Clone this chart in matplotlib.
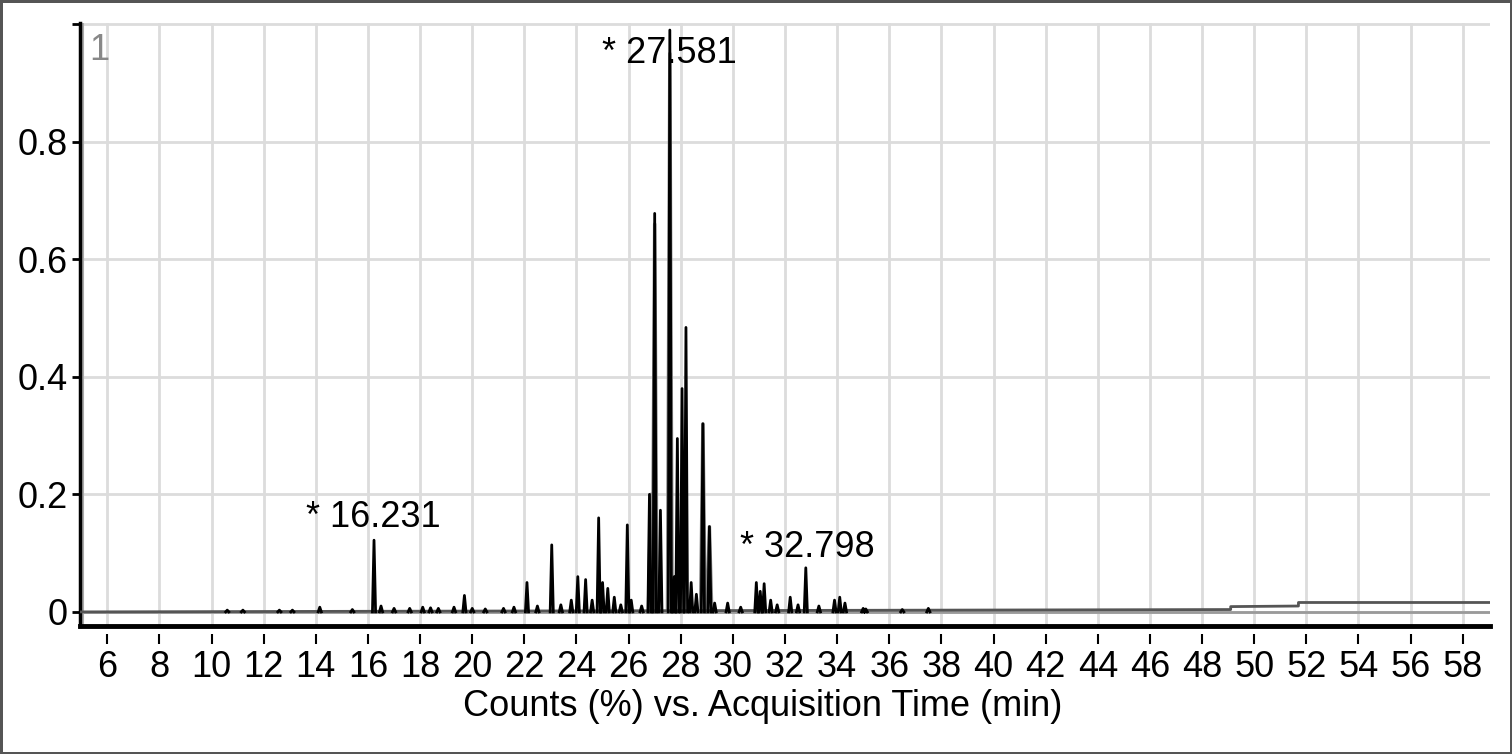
import numpy as np
import matplotlib
matplotlib.use('Agg')
import matplotlib.pyplot as plt

plt.rcParams['font.family'] = ['Liberation Sans', 'DejaVu Sans']

# retention times (min) and relative counts
peak_rt = [10.6, 11.2, 12.6, 13.1, 14.15, 15.4, 16.231, 16.5, 17.0, 17.6, 18.1, 18.4, 18.7,
           19.3, 19.7, 20.0, 20.5, 21.2, 21.6, 22.1, 22.5, 23.05, 23.4, 23.8, 24.05, 24.35,
           24.6, 24.85, 25.0, 25.2, 25.45, 25.7, 25.95, 26.1, 26.5, 26.8, 27.0, 27.22, 27.581,
           27.75, 27.87, 28.05, 28.2, 28.4, 28.6, 28.85, 29.1, 29.3, 29.8, 30.3, 30.9, 31.05,
           31.2, 31.45, 31.7, 32.2, 32.5, 32.798, 33.3, 33.9, 34.1, 34.3, 35.0, 35.1, 36.5, 37.5]
peak_h = [0.003, 0.003, 0.003, 0.003, 0.008, 0.004, 0.122, 0.010, 0.006, 0.006, 0.008, 0.007, 0.006,
          0.008, 0.028, 0.006, 0.005, 0.006, 0.008, 0.050, 0.010, 0.114, 0.012, 0.020, 0.060, 0.055,
          0.020, 0.160, 0.050, 0.040, 0.025, 0.012, 0.148, 0.020, 0.010, 0.200, 0.678, 0.173, 0.990,
          0.060, 0.295, 0.380, 0.484, 0.050, 0.030, 0.320, 0.145, 0.015, 0.015, 0.008, 0.050, 0.035,
          0.048, 0.020, 0.012, 0.025, 0.012, 0.075, 0.010, 0.020, 0.025, 0.015, 0.006, 0.005, 0.004, 0.006]

# second (grey) trace peaks
grey_rt = [26.85, 27.0, 27.581, 28.85, 29.1]
grey_h = [0.20, 0.66, 0.95, 0.32, 0.145]

# black trace baseline drift after 38 min
base_t = [4.95, 38.0, 49.1, 49.1, 51.7, 51.7, 59.05]
base_y = [0.0, 0.003, 0.004, 0.009, 0.010, 0.016, 0.016]

labels = ['* 16.231', '* 27.581', '* 32.798']
label_x = [16.19, 27.581, 32.86]
label_y = [0.144, 0.934, 0.093]

xticks = list(range(6, 60, 2))
yticks = [0, 0.2, 0.4, 0.6, 0.8, 1.0]
ytick_labels = ['0', '0.2', '0.4', '0.6', '0.8', '']


def trace(rts, hs, hw):
    xs, ys = [], []
    for t, h in zip(rts, hs):
        xs += [t - hw, t, t + hw, np.nan]
        ys += [0, h, 0, np.nan]
    return xs, ys


fig = plt.figure(figsize=(15.12, 7.54), dpi=100)
fig.patch.set_edgecolor('#555555')
fig.patch.set_linewidth(2.5)
ax = fig.add_axes([80 / 1512, 1 - 626 / 754, 1410 / 1512, 603 / 754])

ax.set_xlim(4.95, 59.05)
ax.set_ylim(-0.024, 1.002)

ax.grid(True, color='#dcdcdc', linewidth=2)
ax.set_axisbelow(True)

# grey baseline + grey peaks
ax.plot([4.95, 59.05], [0, 0], color='#9a9a9a', linewidth=2, zorder=2)
gx, gy = trace(grey_rt, grey_h, 0.09)
ax.plot(gx, gy, color='#8a8a8a', linewidth=2.5, zorder=2)

# black trace
ax.plot(base_t, base_y, color='#555555', linewidth=2, zorder=3)
bx, by = trace(peak_rt, peak_h, 0.06)
ax.plot(bx, by, color='black', linewidth=2, zorder=3)

for s, x, y in zip(labels, label_x, label_y):
    ax.text(x, y, s, ha='center', va='baseline', fontsize=26, color='black', zorder=4)

ax.text(5.3, 0.985, '1', ha='left', va='top', fontsize=26, color='#888888')

# axes frame
for side in ['top', 'right', 'bottom']:
    ax.spines[side].set_visible(False)
ax.spines['bottom'].set_position(('outward', 6))
ax.spines['left'].set_linewidth(2.5)
ax.axhline(-0.024, color='black', linewidth=3.5, clip_on=False, zorder=5)
ax.axvline(5.07, color='#aaaaaa', linewidth=1.5, zorder=2)

ax.set_xticks(xticks)
ax.set_yticks(yticks)
ax.set_yticklabels(ytick_labels)
ax.tick_params(axis='x', direction='out', length=7, width=1.5, labelsize=26, pad=4.5)
ax.tick_params(axis='y', direction='out', length=6, width=2, labelsize=26, pad=3)

ax.set_xlabel('Counts (%) vs. Acquisition Time (min)', fontsize=26, labelpad=0)
ax.xaxis.set_label_coords(0.484, -0.104)
ax.xaxis.label.set_va('top')

fig.savefig('out.png', dpi=100, edgecolor=fig.get_edgecolor())
